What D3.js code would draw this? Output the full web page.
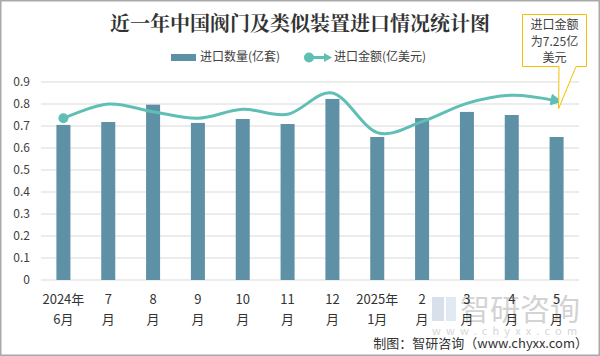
<!DOCTYPE html>
<html><head><meta charset="utf-8">
<script src="https://cdn.jsdelivr.net/npm/d3@7"></script>
<style>
html,body{margin:0;padding:0;background:#fff;}
svg{display:block;font-family:"Noto Sans CJK SC","Microsoft YaHei",sans-serif;}
</style></head>
<body><svg id="c" width="600" height="356"></svg>
<script>
const months = ["2024年|6月","7|月","8|月","9|月","10|月","11|月","12|月","2025年|1月","2|月","3|月","4|月","5|月"];
const quantity = [0.705,0.718,0.797,0.714,0.732,0.709,0.823,0.650,0.736,0.764,0.750,0.650];
const amount = [0.735,0.800,0.765,0.735,0.776,0.753,0.850,0.670,0.720,0.803,0.840,0.815];
const yTicks = [0,0.1,0.2,0.3,0.4,0.5,0.6,0.7,0.8,0.9];
const title = "近一年中国阀门及类似装置进口情况统计图";
const legendNames = ["进口数量(亿套)","进口金额(亿美元)"];
const calloutLines = ["进口金额","为7.25亿","美元"];
const source = "制图：智研咨询（www.chyxx.com）";

const svg = d3.select("#c");
const W=600,H=356;
const barColor="#5e90a6", lineColor="#5fbfb5";

svg.append("rect").attr("x",0.75).attr("y",0.75).attr("width",W-1.5).attr("height",H-1.5)
  .attr("fill","#fff").attr("stroke","#a9a9a9").attr("stroke-width",1.5);

const x = d3.scaleBand().domain(d3.range(months.length)).range([41,579]).paddingInner(0.6875).paddingOuter(0.34375);
const y = d3.scaleLinear().domain([0,0.9]).range([280,82]);

// grid
svg.append("g").selectAll("line").data(yTicks).join("line")
  .attr("x1",41).attr("x2",579).attr("y1",d=>y(d)).attr("y2",d=>y(d))
  .attr("stroke","#d9d9d9").attr("stroke-width",1);

// y labels
svg.append("g").selectAll("text").data(yTicks).join("text")
  .attr("x",30).attr("y",d=>y(d)).attr("dy","0.35em").attr("text-anchor","end")
  .attr("font-size",12).attr("fill","#404040").text(d=>d===0?"0":d3.format(".1f")(d));

// watermark
const wm = svg.append("g").attr("opacity",0.55);
wm.append("rect").attr("x",432).attr("y",297).attr("width",12).attr("height",24).attr("fill","#b8c7dc");
wm.append("rect").attr("x",446).attr("y",297).attr("width",10).attr("height",24).attr("fill","#c9d9ea");
wm.append("text").attr("x",460).attr("y",320).attr("font-size",30).attr("fill","#b0b0b0").text("智研咨询");
wm.append("text").attr("x",432).attr("y",335).attr("font-size",11).attr("fill","#b5b5b5").attr("letter-spacing",5.2).text("www.chyxx.com");

// bars
svg.append("g").selectAll("rect").data(quantity).join("rect")
  .attr("x",(d,i)=>x(i)).attr("width",x.bandwidth())
  .attr("y",d=>y(d)).attr("height",d=>y(0)-y(d)).attr("fill",barColor);

// x labels
const xl = svg.append("g").selectAll("text").data(months).join("text")
  .attr("text-anchor","middle").attr("font-size",13).attr("fill","#333");
xl.each(function(d,i){
  const parts=d.split("|"); const t=d3.select(this);
  t.append("tspan").attr("x",x(i)+x.bandwidth()/2).attr("y",304).text(parts[0]);
  t.append("tspan").attr("x",x(i)+x.bandwidth()/2).attr("y",324).text(parts[1]);
});

// arrow marker
const defs=svg.append("defs");
defs.append("marker").attr("id","arr").attr("viewBox","0 0 10 10").attr("refX",5).attr("refY",5)
  .attr("markerWidth",4).attr("markerHeight",4).attr("orient","auto")
  .append("path").attr("d","M0,0 L10,5 L0,10 z").attr("fill",lineColor);

// line
const cx = i=>x(i)+x.bandwidth()/2;
const line = d3.line().x((d,i)=>cx(i)).y(d=>y(d)).curve(d3.curveCardinal.tension(0));
svg.append("path").datum(amount).attr("d",line).attr("fill","none")
  .attr("stroke",lineColor).attr("stroke-width",3).attr("marker-end","url(#arr)");
svg.append("circle").attr("cx",cx(0)).attr("cy",y(amount[0])).attr("r",5).attr("fill",lineColor);

// title
svg.append("text").attr("x",300).attr("y",31).attr("text-anchor","middle")
  .attr("font-size",20).attr("font-weight","bold").attr("fill","#333")
  .attr("font-family","'Noto Serif CJK SC','Noto Sans CJK SC',serif").text(title);

// legend
const lg=svg.append("g").attr("font-size",12).attr("fill","#404040");
lg.append("rect").attr("x",171).attr("y",54).attr("width",25).attr("height",7).attr("fill",barColor);
lg.append("text").attr("x",200).attr("y",57).attr("dy","0.35em").attr("fill","#404040").text(legendNames[0]);
lg.append("line").attr("x1",309).attr("x2",326).attr("y1",57.5).attr("y2",57.5).attr("stroke",lineColor).attr("stroke-width",3);
lg.append("path").attr("d","M324,53 L332,57.5 L324,62 Z").attr("fill",lineColor);
lg.append("circle").attr("cx",309).attr("cy",57.5).attr("r",5).attr("fill",lineColor);
lg.append("text").attr("x",334).attr("y",57).attr("dy","0.35em").attr("fill","#404040").text(legendNames[1]);

// callout
const last=amount.length-1;
const tipX=cx(last)+2, tipY=y(amount[last])+8;
svg.append("path").attr("d",`M522.5,14.5 L586.5,14.5 L586.5,66.5 L576,66.5 L${tipX},${tipY} L559,66.5 L522.5,66.5 Z`)
  .attr("fill","#fff").attr("stroke","#f5c000").attr("stroke-width",1);
svg.append("g").selectAll("text").data(calloutLines).join("text")
  .attr("x",554.5).attr("y",(d,i)=>25+i*16.5).attr("dy","0.35em").attr("text-anchor","middle")
  .attr("font-size",12).attr("fill","#404040").text(d=>d);

// source
svg.append("text").attr("x",588).attr("y",348).attr("text-anchor","end").attr("font-size",13)
  .attr("fill","#333").text(source);
</script></body></html>
